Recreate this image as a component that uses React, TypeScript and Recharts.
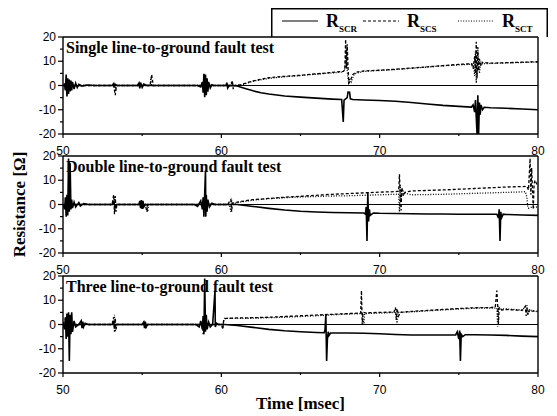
import React from 'react'
import { LineChart, Line, XAxis, YAxis, ReferenceLine } from 'recharts'

type Pt = [number, number]

const X_TICKS = [50, 55, 60, 65, 70, 75, 80]
const Y_TICKS = [-20, -15, -10, -5, 0, 5, 10, 15, 20]

const TITLES = [
  'Single line-to-ground fault test',
  'Double line-to-ground fault test',
  'Three line-to-ground fault test',
]

// single line-to-ground
const singleScr: Pt[] = [
  [50, 0], [50.1, 0.3], [50.15, -2], [50.2, 4.5], [50.25, -4.5], [50.3, 3], [50.35, -3.5], [50.4, 2.5],
  [50.45, -2.5], [50.5, 2], [50.55, -2], [50.6, 1.5], [50.7, -1.5], [50.8, 1], [50.9, -0.8], [51, 0.5],
  [51.2, -0.3], [51.5, 0.2], [52, 0], [53.1, 0], [53.2, 0.8], [53.25, -0.8], [53.3, 0.5], [53.4, 0],
  [54.7, 0], [54.8, 1], [54.85, -1.2], [54.9, 1.2], [55, -0.8], [55.1, 0.6], [55.3, 0], [58.5, 0],
  [58.7, -0.6], [58.8, 1.5], [58.85, -3], [58.9, 4.8], [58.95, -4.8], [59, 4.5], [59.05, -4], [59.1, 3],
  [59.15, -2.5], [59.2, 1.5], [59.3, -1], [59.4, 0.3], [59.5, 0], [60.3, 0], [60.35, 1.2], [60.4, -1],
  [60.5, 0], [61, -0.2], [61.5, -1.2], [62, -2.2], [62.5, -3], [63, -3.5], [64, -4.3], [65, -4.8],
  [66, -5.2], [67, -5.6], [67.6, -5.8], [67.7, -15], [67.75, -6], [67.95, -5], [68, -2.7], [68.1, -2.8],
  [68.15, -5.5], [68.3, -5.8], [69, -6], [70, -6.2], [71, -6.5], [72, -7], [73, -7.6], [74, -8.2],
  [75, -8.6], [75.8, -8.9], [75.9, -8], [76, -11], [76.05, -6], [76.1, -13], [76.15, -20], [76.2, -4],
  [76.25, -20], [76.3, -7], [76.35, -12], [76.4, -8], [76.5, -10], [76.6, -9], [77, -9.2], [78, -9.4],
  [79, -9.7], [80, -10],
]
const singleScs: Pt[] = [
  [50, 0], [50.3, 2], [50.35, -2], [50.4, 0], [53.2, 0], [53.3, -4], [53.35, -1], [53.4, 0], [55.5, 0],
  [55.6, 4.5], [55.7, 0], [60.6, 0], [60.7, 2], [60.75, -1.5], [60.8, 0], [61.2, 0.3], [61.8, 1.5],
  [62.5, 2.6], [63, 3.2], [64, 3.8], [65, 4.2], [66, 4.8], [67, 5.4], [67.7, 5.8], [67.8, 6.5],
  [67.85, 19], [67.9, 7], [67.95, 17], [68, 8], [68.05, 1], [68.15, 2], [68.3, 4.5], [68.5, 5.5],
  [69, 6], [70, 6.3], [71, 6.7], [72, 7.2], [73, 7.7], [74, 8.2], [75, 8.7], [75.8, 9], [75.9, 7],
  [76, 12], [76.05, 5], [76.1, 18], [76.15, 3], [76.2, 14], [76.25, 6], [76.3, 11], [76.4, 8],
  [76.5, 9.5], [77, 9.2], [78, 9.4], [79, 9.6], [80, 9.8],
]
const singleSct: Pt[] = [
  [50, 0], [50.2, -1.5], [50.25, 1.5], [50.3, 0], [53.3, 0], [53.35, -2], [53.4, 0], [55.5, 0],
  [55.55, 3], [55.6, 0], [60.6, 0], [60.65, 1.5], [60.7, 0], [61.3, 0.2], [62, 1.8], [63, 2.9],
  [64, 3.6], [65, 4.1], [66, 4.7], [67, 5.2], [67.7, 5.6], [67.8, 7], [67.9, 15], [67.95, 6],
  [68.05, 0.5], [68.1, 3], [68.2, 1.5], [68.4, 4.8], [69, 5.8], [70, 6.2], [71, 6.6], [72, 7.1],
  [73, 7.6], [74, 8.1], [75, 8.5], [75.9, 8.8], [76, 4], [76.05, 14], [76.1, 1], [76.2, 16],
  [76.25, 9], [76.3, 5], [76.4, 10], [76.6, 9], [77, 9.1], [78, 9.3], [79, 9.5], [80, 9.7],
]

// double line-to-ground
const doubleScr: Pt[] = [
  [50, 0], [50.1, -2], [50.15, 3], [50.2, -5], [50.25, 4], [50.3, -4.5], [50.35, 19], [50.4, -3],
  [50.45, 17], [50.5, -2], [50.55, 2], [50.6, -1.5], [50.7, 1], [50.8, -1], [51, 0.8], [51.1, -0.6],
  [51.3, 0.4], [51.6, 0], [53.1, 0], [53.2, 1], [53.3, -1], [53.4, 0], [54.8, 0], [54.85, 1.5],
  [54.9, -1.5], [54.95, 1.8], [55, -1.8], [55.05, 1.5], [55.1, -1], [55.2, 0], [58.3, 0], [58.5, -0.8],
  [58.7, 1.5], [58.8, -2], [58.85, 3], [58.9, -5], [58.95, 4.5], [59, 14], [59.02, -5], [59.05, 4],
  [59.1, -3], [59.15, 2], [59.25, -1], [59.4, 0.5], [59.6, 0], [61, 0], [62, -0.8], [63, -1.6],
  [64, -2.3], [65, -2.8], [66, -3.1], [67, -3.3], [68, -3.4], [69, -3.5], [69.1, -4], [69.15, -1],
  [69.2, -15], [69.25, 5], [69.3, -7], [69.35, -2], [69.4, -4.5], [69.6, -3.5], [70, -3.6], [71, -3.7],
  [72, -3.8], [73, -3.9], [74, -3.9], [75, -4], [76, -4], [77, -4], [77.4, -4], [77.5, -5.5],
  [77.55, -2], [77.6, -15], [77.65, -3], [77.7, -5.5], [77.8, -4], [78, -4.1], [79, -4.3], [80, -4.5],
]
const doubleScs: Pt[] = [
  [50, 0], [50.3, -3], [50.35, 2], [50.4, 0], [53.1, 0], [53.2, 4], [53.25, -4], [53.3, 3.5],
  [53.35, -3], [53.4, 0], [55.2, 0], [55.3, -3], [55.35, 0], [58.9, 0], [59, -3], [59.05, 0],
  [60.4, 0], [60.6, 2], [60.65, -3], [60.7, 0.5], [61, 1], [62, 2], [63, 2.5], [64, 3], [65, 3.4],
  [66, 3.8], [67, 4.2], [68, 4.5], [69, 4.8], [70, 5.1], [71, 5.3], [71.2, 5.5], [71.25, 12.5],
  [71.3, 4], [71.35, -2.5], [71.4, 7], [71.5, 3.5], [71.6, 5], [72, 5.6], [73, 5.8], [74, 6],
  [75, 6.3], [76, 6.6], [77, 6.9], [78, 7.2], [79, 7.4], [79.3, 7.5], [79.4, 6], [79.5, 19],
  [79.55, 4], [79.6, 15], [79.7, -2], [79.75, 8], [79.8, 10], [80, 7.5],
]
const doubleSct: Pt[] = [
  [50, 0], [53.2, 0], [53.25, 3], [53.3, -2], [53.35, 0], [55.3, 0], [55.35, -3], [55.4, 0],
  [60.5, 0], [60.6, -3], [60.65, 2], [60.7, 0], [61, 0.8], [62, 1.8], [63, 2.4], [64, 2.8],
  [65, 3.1], [66, 3.3], [67, 3.5], [68, 3.6], [69, 3.8], [70, 4], [71, 4.2], [71.2, 4.3],
  [71.25, -3], [71.3, 8], [71.35, 2], [71.4, 6], [71.5, 5.5], [71.7, 4.5], [72, 4], [73, 4.1],
  [74, 4.2], [75, 4.4], [76, 4.6], [77, 4.8], [78, 5], [79, 5.2], [79.2, 5.3], [79.3, 3],
  [79.35, -1], [79.4, -1.5], [79.5, -1.2], [80, -1],
]

// three line-to-ground
const threeScr: Pt[] = [
  [50, 0], [50.1, -2], [50.15, 3], [50.2, -6], [50.25, 4.5], [50.3, -5], [50.35, 5], [50.4, -15],
  [50.45, 4], [50.5, -4], [50.55, 5], [50.6, -3], [50.7, 1.5], [50.8, -1], [51, 0], [51.15, 1.5],
  [51.2, -1.5], [51.25, 1.2], [51.3, -1], [51.4, 0.5], [51.6, 0], [53.1, 0], [53.2, 0.8],
  [53.25, -0.8], [53.3, 0], [55, 0], [55.1, 1], [55.15, -1.5], [55.2, 1.2], [55.25, -1], [55.35, 0],
  [58.4, 0], [58.6, -1], [58.7, 1.5], [58.8, -2], [58.85, 3.5], [58.9, -4], [58.95, 19], [59, -3],
  [59.05, 4], [59.1, -2], [59.2, 1], [59.3, -1], [59.45, 0], [59.6, 14], [59.62, -1], [59.7, 0.5],
  [59.8, 0], [60.2, 0], [61, -0.4], [62, -1.2], [63, -2], [64, -2.6], [65, -3], [66, -3.3],
  [66.5, -3.4], [66.55, -2], [66.6, 4], [66.65, -15], [66.7, -6], [66.75, -3], [66.8, -4.5],
  [66.9, -3.5], [67, -3.5], [68, -3.5], [69, -3.6], [70, -3.8], [71, -4.1], [72, -4.3], [73, -4.3],
  [74.8, -4.3], [74.9, -3], [75, -6], [75.05, -2.5], [75.1, -15], [75.15, -4], [75.25, -5],
  [75.4, -4.2], [76, -4.2], [77, -4.3], [78, -4.5], [79, -4.8], [80, -5],
]
const threeScs: Pt[] = [
  [50, 0], [50.2, 3], [50.25, -3], [50.3, 0], [53.1, 0], [53.2, 3], [53.25, -3], [53.3, 2.5],
  [53.35, -2], [53.4, 0], [55.2, 0], [55.25, -1.5], [55.3, 0], [58.8, 0], [58.85, -4], [58.9, 0],
  [60, 0], [60.1, -2], [60.15, 2], [60.3, 2.5], [61, 2.7], [62, 2.8], [63, 3], [64, 3.3], [65, 3.6],
  [66, 3.9], [67, 4.2], [68, 4.5], [68.8, 4.7], [68.85, 14], [68.9, 0], [68.95, 5], [69.1, 4.8],
  [70, 5], [70.9, 5.1], [71, 7], [71.05, 2], [71.1, 6.5], [71.2, 3.5], [71.3, 5], [72, 5.4],
  [73, 5.8], [74, 6.2], [75, 6.6], [76, 6.9], [77, 7], [77.3, 7.2], [77.4, 14], [77.45, 8],
  [77.5, 0], [77.55, 7], [77.7, 6], [78, 6.2], [79, 5.8], [79.2, 7.5], [79.25, 3.5], [79.3, 7],
  [79.35, 4], [79.45, 6], [79.6, 5.5], [80, 5.5],
]
const threeSct: Pt[] = [
  [50, 0], [53.2, 0], [53.25, 4], [53.3, -3], [53.35, 0], [60.1, 0], [60.2, 2.5], [61, 2.5],
  [62, 2.6], [63, 2.8], [64, 3], [65, 3.3], [66, 3.6], [67, 4], [68, 4.3], [68.9, 4.5], [69, 0],
  [69.05, 4.5], [70, 4.7], [71, 5], [71.1, 0], [71.15, 5], [72, 5.2], [73, 5.6], [74, 6], [75, 6.4],
  [76, 6.7], [77, 6.8], [77.4, 6.8], [77.45, -1], [77.5, 6.5], [78, 6.4], [79, 6], [79.3, 8],
  [79.35, 4], [79.5, 6], [80, 5.2],
]

const PANEL_DATA = [
  [singleScr, singleScs, singleSct],
  [doubleScr, doubleScs, doubleSct],
  [threeScr, threeScs, threeSct],
]

const W = 557
const H = 416
const PANELS = [
  { top: 37, bottom: 134 },
  { top: 156, bottom: 253 },
  { top: 276, bottom: 373 },
]
const DASH = [undefined, '3 2', '1 1.6']
const WIDTHS = [1.6, 1.3, 1.3]
const SANS = '"Liberation Sans", Arial, sans-serif'
const SERIF = '"Liberation Serif", "Times New Roman", serif'

const toData = (pts: Pt[]) => pts.map(([t, v]) => ({ t, v }))

const XTick = ({ x, y, payload }: any) => {
  const v = payload.value
  const major = v % 10 === 0
  const axisY = y - 13
  return (
    <g>
      <line x1={x} x2={x} y1={axisY} y2={axisY + (major ? 4 : 2)} stroke="#000" strokeWidth={1.2} />
      {major && (
        <text x={x} y={axisY + 21} textAnchor="middle" fontSize={12} fontFamily={SANS} fill="#000">
          {v}
        </text>
      )}
    </g>
  )
}

const YTick = ({ x, y, payload }: any) => {
  const v = payload.value
  const major = v % 10 === 0
  const axisX = x + 8
  return (
    <g>
      <line x1={axisX} x2={axisX - (major ? 5 : 3)} y1={y} y2={y} stroke="#000" strokeWidth={1.2} />
      {major && (
        <text x={axisX - 7} y={y} dy="0.35em" textAnchor="end" fontSize={12} fontFamily={SANS} fill="#000">
          {v}
        </text>
      )}
    </g>
  )
}

function Panel({ idx }: { idx: number }) {
  const p = PANELS[idx]
  const last = idx === PANELS.length - 1
  const xH = last ? 41 : 30
  return (
    <div style={{ position: 'absolute', left: 0, top: 0 }}>
      <LineChart
        width={W}
        height={H}
        margin={{ top: p.top, right: 19, left: 0, bottom: H - p.bottom - xH }}
      >
        <XAxis
          type="number"
          dataKey="t"
          domain={[50, 80]}
          ticks={X_TICKS}
          interval={0}
          allowDataOverflow
          height={xH}
          tickSize={5}
          tickMargin={8}
          tickLine={false}
          tick={<XTick />}
          axisLine={{ stroke: '#000', strokeWidth: 1.4 }}
          label={
            last
              ? { value: 'Time [msec]', position: 'insideBottom', offset: 5, fill: '#000', fontSize: 17, fontWeight: 'bold', fontFamily: SERIF }
              : undefined
          }
        />
        <YAxis
          type="number"
          domain={[-20, 20]}
          ticks={Y_TICKS}
          interval={0}
          allowDataOverflow
          width={63}
          tickSize={5}
          tickMargin={3}
          tickLine={false}
          tick={<YTick />}
          axisLine={{ stroke: '#000', strokeWidth: 1.4 }}
          label={
            idx === 1
              ? {
                  value: 'Resistance [Ω]', angle: -90, position: 'insideLeft', offset: 19,
                  fill: '#000', fontSize: 17, fontWeight: 'bold', fontFamily: SERIF,
                  style: { textAnchor: 'middle' },
                }
              : undefined
          }
        />
        <ReferenceLine y={20} stroke="#000" strokeWidth={1.4} />
        <ReferenceLine x={80} stroke="#000" strokeWidth={1.4} />
        <ReferenceLine y={0} stroke="#000" strokeWidth={1.1} />
        {PANEL_DATA[idx].map((pts, i) => (
          <Line
            key={i}
            data={toData(pts)}
            dataKey="v"
            type="linear"
            stroke="#000"
            strokeWidth={WIDTHS[i]}
            strokeDasharray={DASH[i]}
            dot={false}
            isAnimationActive={false}
          />
        ))}
      </LineChart>
    </div>
  )
}

function LegendBox() {
  const items = [
    { x: 11, name: 'SCR', dash: DASH[0] },
    { x: 92, name: 'SCS', dash: DASH[1] },
    { x: 187, name: 'SCT', dash: DASH[2] },
  ]
  return (
    <svg
      width={277}
      height={29}
      style={{ position: 'absolute', left: 271, top: 8 }}
    >
      <path d="M0.75 29 V0.75 H276.25 V29" fill="none" stroke="#000" strokeWidth={1.5} />
      {items.map((it) => (
        <g key={it.name}>
          <line x1={it.x} x2={it.x + 36} y1={13} y2={13} stroke="#000" strokeWidth={1.2} strokeDasharray={it.dash} />
          <text x={it.x + 44} y={19} fontFamily={SERIF} fontWeight="bold" fill="#000" fontSize={18}>
            R<tspan fontSize={9} dy={5}>{it.name}</tspan>
          </text>
        </g>
      ))}
    </svg>
  )
}

export default function App() {
  return (
    <div style={{ position: 'absolute', left: 0, top: 0, width: W, height: H, background: '#fff' }}>
      {PANELS.map((_, i) => (
        <Panel key={i} idx={i} />
      ))}
      {TITLES.map((t, i) => (
        <div
          key={t}
          style={{
            position: 'absolute', left: 66, top: PANELS[i].top + 3, lineHeight: '16px',
            fontFamily: SERIF, fontWeight: 'bold', fontSize: 16, color: '#000', whiteSpace: 'nowrap',
          }}
        >
          {t}
        </div>
      ))}
      <LegendBox />
    </div>
  )
}
